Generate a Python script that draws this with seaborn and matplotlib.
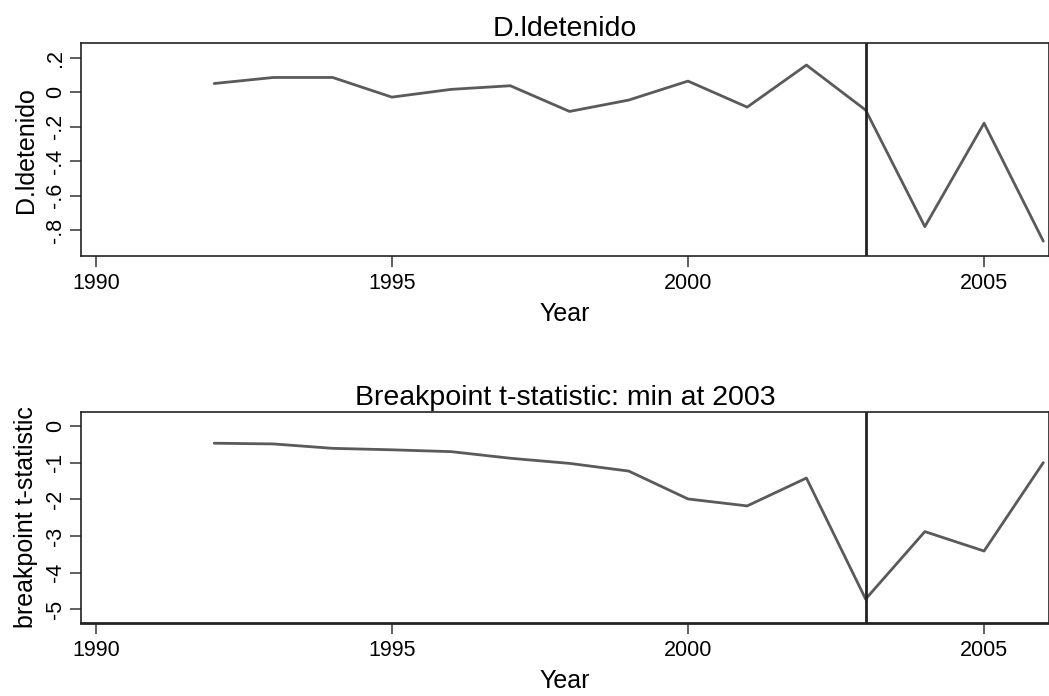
import numpy as np
import pandas as pd
import matplotlib
matplotlib.use("Agg")
import matplotlib.pyplot as plt
from matplotlib.ticker import FuncFormatter
import seaborn as sns

# data
years = [1992, 1993, 1994, 1995, 1996, 1997, 1998, 1999,
         2000, 2001, 2002, 2003, 2004, 2005, 2006]
d_ldetenido = [0.050, 0.085, 0.085, -0.029, 0.016, 0.037, -0.112, -0.046,
               0.064, -0.087, 0.157, -0.104, -0.780, -0.180, -0.864]
t_stat = [-0.47, -0.49, -0.61, -0.65, -0.70, -0.88, -1.02, -1.23,
          -1.99, -2.18, -1.42, -4.72, -2.88, -3.41, -1.00]
break_year = 2003
x_ticks = [1990, 1995, 2000, 2005]

df = pd.DataFrame({"Year": years, "D.ldetenido": d_ldetenido, "tstat": t_stat})

sns.set_theme(style="white")
plt.rcParams["font.family"] = ["Liberation Sans", "DejaVu Sans"]
plt.rcParams["text.color"] = "black"
plt.rcParams["axes.labelcolor"] = "black"
plt.rcParams["xtick.labelcolor"] = "black"
plt.rcParams["ytick.labelcolor"] = "black"

fig = plt.figure(figsize=(10.49, 6.96), dpi=100)
ax1 = fig.add_axes([0.0772, 0.632, 0.923, 0.306])
ax2 = fig.add_axes([0.0772, 0.105, 0.923, 0.303])

line_col = "#5a5a5a"


def dec_fmt(v, pos):
    s = f"{v:.1f}".rstrip("0").rstrip(".")
    s = s.replace("0.", ".")
    if s in ("-0", ""):
        s = "0"
    return s


def style_axis(ax, ylabel, title):
    ax.set_xlim(1989.75, 2006.1)
    ax.set_xticks(x_ticks)
    ax.set_xticklabels([str(t) for t in x_ticks])
    ax.set_xlabel("Year", fontsize=18, labelpad=6)
    ax.set_ylabel(ylabel, fontsize=18, labelpad=5)
    ax.set_title(title, fontsize=20.5, pad=5, color="black")
    ax.tick_params(axis="both", which="major", direction="out", length=8,
                   width=1.2, color="#444444", labelcolor="black",
                   labelsize=15.5, pad=3, bottom=True, left=True)
    ax.tick_params(axis="x", pad=4)
    for lab in ax.get_yticklabels():
        lab.set_rotation(90)
        lab.set_va("center")
    for sp in ax.spines.values():
        sp.set_color("#222222")
        sp.set_linewidth(1.2)
    ax.axvline(break_year, color="#222222", lw=2.0, zorder=3)


sns.lineplot(data=df, x="Year", y="D.ldetenido", ax=ax1, color=line_col, lw=2.0)
ax1.set_ylim(-0.951, 0.284)
ax1.set_yticks([0.2, 0.0, -0.2, -0.4, -0.6, -0.8])
ax1.yaxis.set_major_formatter(FuncFormatter(dec_fmt))
style_axis(ax1, "D.ldetenido", "D.ldetenido")

sns.lineplot(data=df, x="Year", y="tstat", ax=ax2, color=line_col, lw=2.0)
ax2.set_ylim(-5.37, 0.38)
ax2.set_yticks([0, -1, -2, -3, -4, -5])
ax2.set_yticklabels(["0", "-1", "-2", "-3", "-4", "-5"])
style_axis(ax2, "breakpoint t-statistic",
           "Breakpoint t-statistic: min at 2003")
ax2.spines["bottom"].set_linewidth(2.0)

fig.savefig("out.png", dpi=100)
